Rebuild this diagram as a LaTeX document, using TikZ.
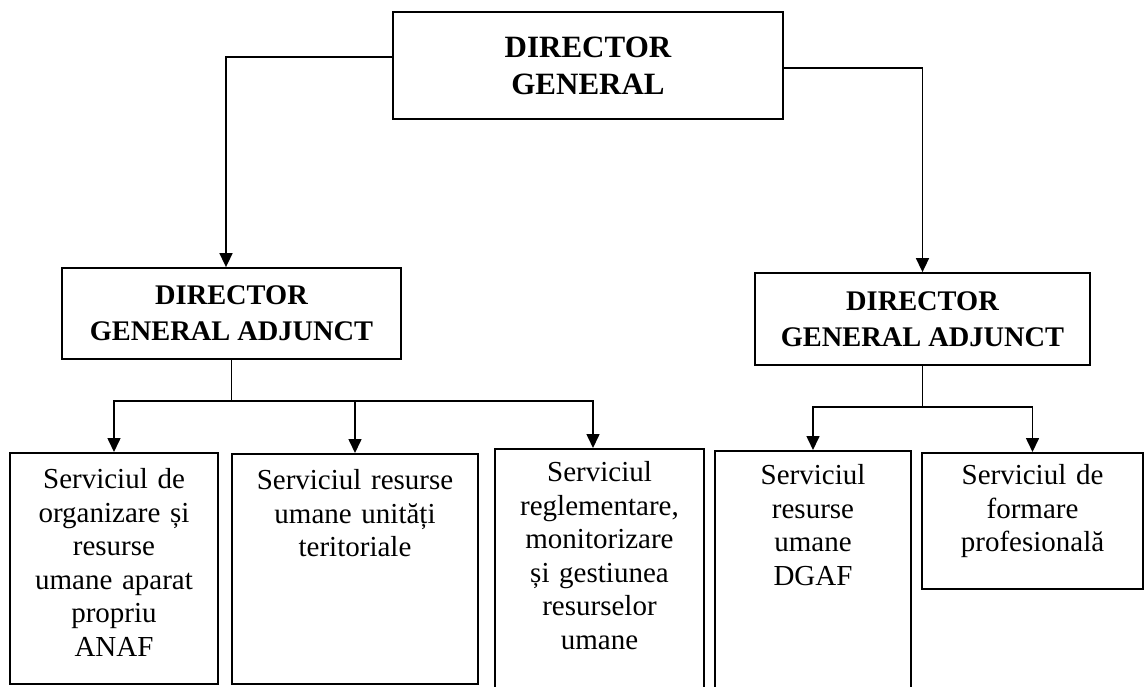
\documentclass[tikz,border=0pt]{standalone}
\usepackage{fontspec}
\setmainfont{Liberation Serif}
\usetikzlibrary{arrows.meta}

\begin{document}
\begin{tikzpicture}[x=0.5pt,y=-0.5pt,
  head/.style={draw,line width=0.9pt,inner sep=0pt,align=center,
    font=\bfseries\fontsize{14.2pt}{18pt}\selectfont},
  svc/.style={draw,line width=0.9pt,inner sep=0pt,align=center,anchor=north,
    text height=18pt,font=\fontsize{14.5pt}{16.75pt}\selectfont},
  arr/.style={line width=0.8pt,-{Triangle[length=7pt,width=6.5pt]}},
  bus/.style={line width=0.8pt}]
\useasboundingbox (0,0) rectangle (1145,686);

\node[head,minimum width=195pt,minimum height=53.5pt,
  font=\bfseries\fontsize{15.5pt}{18.5pt}\selectfont] (dg) at (588,65.5) {DIRECTOR\\GENERAL};

\node[head,minimum width=169.5pt,minimum height=45.5pt] (dga1) at (231.5,313.5) {DIRECTOR\\GENERAL ADJUNCT};
\node[head,minimum width=167.5pt,minimum height=46pt] (dga2) at (922.5,319) {DIRECTOR\\GENERAL ADJUNCT};

\node[svc,text width=104pt,text depth=97.5pt] (s1) at (114,452)
  {Serviciul de\\organizare și\\resurse\\umane aparat\\propriu\\ANAF};
\node[svc,text width=123pt,text depth=97pt] (s2) at (355,453)
  {Serviciul resurse\\umane unități\\teritoriale};
\node[svc,text width=104.5pt,text depth=108pt,text height=16.5pt] (s3) at (599.5,448)
  {Serviciul\\reglementare,\\monitorizare\\și gestiunea\\resurselor\\umane};
\node[svc,text width=98pt,text depth=107pt,text height=17pt] (s4) at (813,450)
  {Serviciul\\resurse\\umane\\DGAF};
\node[svc,text width=110.5pt,text depth=52pt,text height=16pt] (s5) at (1032.5,452)
  {Serviciul de\\formare\\profesională};

\draw[arr] ([yshift=4.25pt]dg.west) -| ([xshift=-2.75pt]dga1.north);
\draw[arr] ([yshift=-1.25pt]dg.east) -| (dga2.north);

\coordinate (jL) at (231.5,401);
\draw[bus] (dga1.south) -- (jL);
\draw[arr] (jL) -| (s1.north);
\draw[arr] (s2.north |- jL) -- (s2.north);
\draw[arr] (jL) -| ([xshift=-3.25pt]s3.north);

\coordinate (jR) at (922.5,407);
\draw[bus] (dga2.south) -- (jR);
\draw[arr] (jR) -| (s4.north);
\draw[arr] (jR) -| (s5.north);
\end{tikzpicture}
\end{document}
